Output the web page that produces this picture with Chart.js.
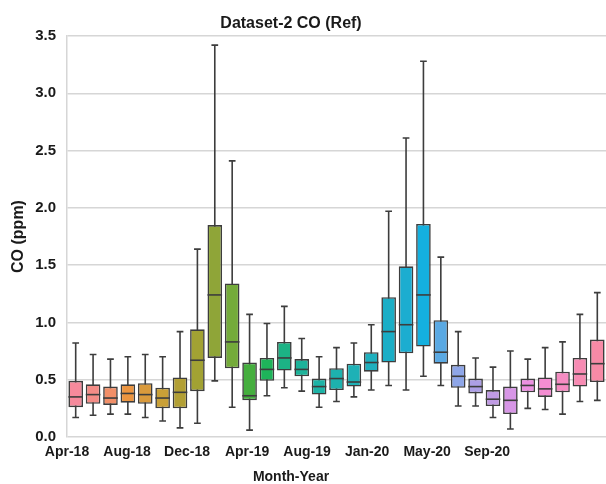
<!DOCTYPE html>
<html>
<head>
<meta charset="utf-8">
<script src="https://cdn.jsdelivr.net/npm/chart.js@4.4.1/dist/chart.umd.min.js"></script>
<style>
  html, body { margin: 0; padding: 0; background: #fff; overflow: hidden; }
</style>
</head>
<body>
<canvas id="chart" width="606" height="484"></canvas>
<script>
// monthly CO distributions (ppm), Dec-19 has no data
const months = ['Apr-18', 'May-18', 'Jun-18', 'Jul-18', 'Aug-18', 'Sep-18', 'Oct-18', 'Nov-18',
    'Dec-18', 'Jan-19', 'Feb-19', 'Mar-19', 'Apr-19', 'May-19', 'Jun-19', 'Jul-19',
    'Aug-19', 'Sep-19', 'Oct-19', 'Nov-19', 'Jan-20', 'Feb-20', 'Mar-20', 'Apr-20',
    'May-20', 'Jun-20', 'Jul-20', 'Aug-20', 'Sep-20', 'Oct-20', 'Nov-20'];
const tickLabels = ['Apr-18', 'Aug-18', 'Dec-18', 'Apr-19', 'Aug-19', 'Jan-20', 'May-20', 'Sep-20'];

const whiskerLow  = [0.17, 0.19, 0.20, 0.20, 0.17, 0.14, 0.08, 0.12, 0.49, 0.26, 0.06, 0.36, 0.43, 0.40, 0.26, 0.31,
    0.35, 0.41, 0.45, 0.41, 0.53, 0.45, 0.27, 0.27, 0.17, 0.07, 0.25, 0.24, 0.20, 0.31, 0.32];
const q1          = [0.26, 0.29, 0.28, 0.30, 0.29, 0.25, 0.25, 0.40, 0.69, 0.60, 0.32, 0.49, 0.58, 0.53, 0.37, 0.41,
    0.44, 0.57, 0.65, 0.73, 0.79, 0.64, 0.43, 0.38, 0.27, 0.20, 0.39, 0.35, 0.39, 0.44, 0.48];
const median      = [0.35, 0.37, 0.34, 0.38, 0.37, 0.34, 0.39, 0.67, 1.24, 0.83, 0.36, 0.59, 0.69, 0.59, 0.44, 0.51,
    0.48, 0.65, 0.92, 0.98, 1.24, 0.74, 0.53, 0.44, 0.33, 0.32, 0.45, 0.42, 0.46, 0.55, 0.64];
const q3          = [0.49, 0.46, 0.44, 0.46, 0.47, 0.43, 0.52, 0.94, 1.85, 1.34, 0.65, 0.69, 0.83, 0.68, 0.51, 0.60,
    0.64, 0.74, 1.22, 1.49, 1.86, 1.02, 0.63, 0.51, 0.41, 0.44, 0.51, 0.52, 0.57, 0.69, 0.85];
const whiskerHigh = [0.82, 0.72, 0.68, 0.70, 0.72, 0.70, 0.92, 1.64, 3.42, 2.41, 1.07, 0.99, 1.14, 0.86, 0.70, 0.78,
    0.82, 0.98, 1.97, 2.61, 3.28, 1.57, 0.92, 0.69, 0.61, 0.75, 0.68, 0.78, 0.83, 1.07, 1.26];

const boxColors = ['#f68a9c', '#f48c86', '#f28f68', '#ec9540', '#d99a3c', '#c9a037', '#b29f34', '#a2a233',
    '#8fa538', '#74ab3a', '#45ae3e', '#1eb45a', '#1cb385', '#1db39a', '#1cb3a6', '#1db2ae',
    '#1eb1b6', '#1fb0be', '#1aaec6', '#1cadd0', '#14b0df', '#5aa9e3', '#8ea6e8', '#ad9fe6',
    '#c09be4', '#d796e6', '#ec8fe2', '#f48dd2', '#f68cc2', '#f78bb3', '#f78aa6'];

const chartTitle = 'Dataset-2 CO (Ref)';
const xTitle = 'Month-Year';
const yTitle = 'CO (ppm)';

const FONT = '"Liberation Sans", Arial, sans-serif';
const EDGE = '#3d3d3d';

// whiskers + caps go behind the boxes, medians on top
const boxWhiskers = {
    id: 'boxWhiskers',
    beforeDatasetsDraw(chart) {
        const { ctx, scales: { x, y } } = chart;
        const bars = chart.getDatasetMeta(0).data;
        ctx.save();
        ctx.strokeStyle = EDGE;
        ctx.lineWidth = 1.6;
        months.forEach((m, i) => {
            const cx = x.getPixelForValue(i);
            const half = bars[i].width * 0.23;
            const yLo = y.getPixelForValue(whiskerLow[i]);
            const yHi = y.getPixelForValue(whiskerHigh[i]);
            ctx.beginPath();
            ctx.moveTo(cx, yLo); ctx.lineTo(cx, yHi);
            ctx.moveTo(cx - half, yLo); ctx.lineTo(cx + half, yLo);
            ctx.moveTo(cx - half, yHi); ctx.lineTo(cx + half, yHi);
            ctx.stroke();
        });
        ctx.restore();
    },
    afterDatasetsDraw(chart) {
        const { ctx, scales: { x, y } } = chart;
        const bars = chart.getDatasetMeta(0).data;
        ctx.save();
        ctx.strokeStyle = EDGE;
        ctx.lineWidth = 1.6;
        months.forEach((m, i) => {
            const cx = x.getPixelForValue(i);
            const half = bars[i].width / 2;
            const ym = y.getPixelForValue(median[i]);
            ctx.beginPath();
            ctx.moveTo(cx - half, ym); ctx.lineTo(cx + half, ym);
            ctx.stroke();
        });
        ctx.restore();
    }
};

const headings = {
    id: 'headings',
    afterDraw(chart) {
        const ctx = chart.ctx;
        ctx.save();
        ctx.fillStyle = '#1a1a1a';
        ctx.textAlign = 'center';
        ctx.textBaseline = 'middle';
        ctx.font = 'bold 16px ' + FONT;
        ctx.fillText(chartTitle, 291, 24);
        ctx.font = 'bold 14px ' + FONT;
        ctx.fillText(xTitle, 291, 477);
        ctx.restore();
    }
};

const ctx = document.getElementById('chart').getContext('2d');
new Chart(ctx, {
    type: 'bar',
    data: {
        labels: months,
        datasets: [{
            label: 'CO',
            data: months.map((m, i) => [q1[i], q3[i]]),
            backgroundColor: boxColors,
            borderColor: EDGE,
            borderWidth: 1.6,
            borderSkipped: false,
            barPercentage: 0.84,
            categoryPercentage: 1.0,
            xAxisID: 'x'
        }]
    },
    options: {
        responsive: false,
        animation: false,
        layout: { padding: { top: 36, right: 0, left: 0, bottom: 0 } },
        plugins: {
            legend: { display: false },
            tooltip: { enabled: false },
            title: { display: false }
        },
        scales: {
            x: {
                type: 'category',
                display: false,
                offset: true
            },
            // month labels sit on their own axis, spaced as in the source figure
            xl: {
                type: 'linear',
                position: 'bottom',
                offset: false,
                min: 0,
                max: 8.98,
                afterBuildTicks: s => { s.ticks = tickLabels.map((t, i) => ({ value: i })); },
                afterFit: s => { s.height = 47; },
                ticks: {
                    callback: v => tickLabels[v],
                    autoSkip: false,
                    maxRotation: 0,
                    padding: 7,
                    color: '#1a1a1a',
                    font: { family: FONT, size: 14, weight: 'bold' }
                },
                grid: { display: false, drawTicks: false, offset: false },
                border: { display: false }
            },
            y: {
                min: 0,
                max: 3.5,
                afterFit: s => { s.width = 67; },
                ticks: {
                    stepSize: 0.5,
                    callback: v => v.toFixed(1),
                    padding: 11,
                    color: '#1a1a1a',
                    font: { family: FONT, size: 15, weight: 'bold' }
                },
                grid: { color: '#d6d6d6', lineWidth: 1.5, drawTicks: false },
                border: { display: true, color: '#d6d6d6', width: 1.5 },
                title: {
                    display: true,
                    text: yTitle,
                    color: '#1a1a1a',
                    padding: { top: 9, bottom: 0 },
                    font: { family: FONT, size: 16, weight: 'bold' }
                }
            }
        }
    },
    plugins: [boxWhiskers, headings]
});
</script>
</body>
</html>
